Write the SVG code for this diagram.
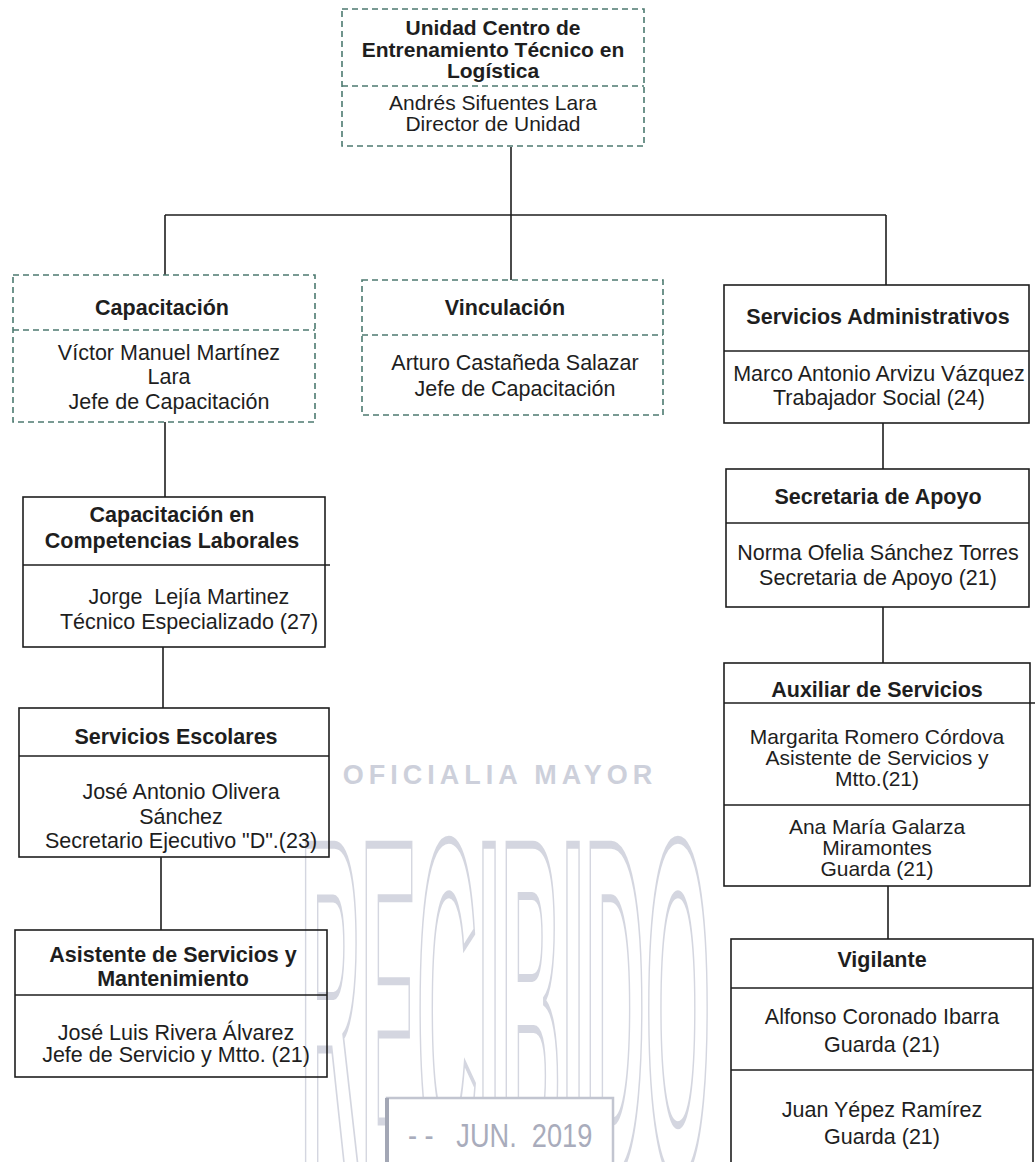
<svg xmlns="http://www.w3.org/2000/svg" width="1035" height="1162" viewBox="0 0 1035 1162">
<style>
.bg{fill:#ffffff}
.solid{fill:none;stroke:#1e1e1e;stroke-width:1.6}
.dash{fill:none;stroke:#4d7a70;stroke-width:1.6;stroke-dasharray:6 4}
.ln{stroke:#1e1e1e;stroke-width:1.6;fill:none}
.t{font-family:"Liberation Sans",Arial,sans-serif;font-size:21.5px;fill:#1e1e1e;text-anchor:middle}
.b{font-weight:bold}
.top{font-size:21px}
.sm{font-size:21px}
.st{font-family:"Liberation Sans",Arial,sans-serif;fill:#b9bdcc;text-anchor:middle}
</style>
<rect class="bg" x="0" y="0" width="1035" height="1162"/>

<g id="stamp" opacity="0.7">
<text class="st" x="500" y="784" font-size="27" font-weight="bold" letter-spacing="5">OFICIALIA MAYOR</text>
<text x="0" y="0" font-family="'Liberation Sans',Arial,sans-serif" font-size="300" font-weight="bold" fill="none" stroke="#c3c6d3" stroke-width="5" transform="translate(300 1175) scale(0.28 1.6)">RECIBIDO</text>
<rect x="387" y="1098" width="226" height="70" fill="#ffffff" stroke="#a9adbd" stroke-width="2.5"/>
<line x1="387" y1="1098" x2="387" y2="1162" stroke="#7d8296" stroke-width="4"/>
<text x="0" y="0" font-family="'Liberation Sans',Arial,sans-serif" font-size="34" fill="#858aa0" transform="translate(408 1147) scale(0.8 1)" xml:space="preserve">- -   JUN.  2019</text>
</g>

<g id="connectors">
<line class="ln" x1="511" y1="147" x2="511" y2="215"/>
<line class="ln" x1="165" y1="215" x2="886" y2="215"/>
<line class="ln" x1="165" y1="215" x2="165" y2="275"/>
<line class="ln" x1="511" y1="215" x2="511" y2="280"/>
<line class="ln" x1="886" y1="215" x2="886" y2="285"/>
<line class="ln" x1="165" y1="422" x2="165" y2="497"/>
<line class="ln" x1="163" y1="647" x2="163" y2="708"/>
<line class="ln" x1="161" y1="857" x2="161" y2="930"/>
<line class="ln" x1="883" y1="423" x2="883" y2="469"/>
<line class="ln" x1="883" y1="607" x2="883" y2="663"/>
<line class="ln" x1="888" y1="886" x2="888" y2="939"/>
</g>

<g id="unidad">
<rect class="dash" x="342" y="9" width="302" height="137"/>
<line class="dash" x1="342" y1="86" x2="644" y2="86"/>
<text class="t b top" x="493" y="35">Unidad Centro de</text>
<text class="t b top" x="493" y="57">Entrenamiento Técnico en</text>
<text class="t b top" x="493" y="78">Logística</text>
<text class="t top" x="493" y="110">Andrés Sifuentes Lara</text>
<text class="t top" x="493" y="131">Director de Unidad</text>
</g>

<g id="capacitacion">
<rect class="dash" x="13" y="275" width="302" height="147"/>
<line class="dash" x1="13" y1="330" x2="315" y2="330"/>
<text class="t b" x="162" y="315">Capacitación</text>
<text class="t" x="169" y="360">Víctor Manuel Martínez</text>
<text class="t" x="169" y="384">Lara</text>
<text class="t" x="169" y="409">Jefe de Capacitación</text>
</g>

<g id="vinculacion">
<rect class="dash" x="362" y="280" width="301" height="135"/>
<line class="dash" x1="362" y1="335" x2="663" y2="335"/>
<text class="t b" x="505" y="315">Vinculación</text>
<text class="t" x="515" y="370">Arturo Castañeda Salazar</text>
<text class="t" x="515" y="396">Jefe de Capacitación</text>
</g>

<g id="serv-admin">
<rect class="solid" x="724" y="285" width="305" height="138"/>
<line class="ln" x1="724" y1="351" x2="1029" y2="351"/>
<text class="t b" x="878" y="324">Servicios Administrativos</text>
<text class="t" x="879" y="381">Marco Antonio Arvizu Vázquez</text>
<text class="t" x="879" y="405">Trabajador Social (24)</text>
</g>

<g id="ccl">
<rect class="solid" x="23" y="497" width="302" height="150"/>
<line class="ln" x1="23" y1="565" x2="330" y2="565"/>
<text class="t b" x="172" y="522">Capacitación en</text>
<text class="t b" x="172" y="548">Competencias Laborales</text>
<text class="t" x="189" y="604" xml:space="preserve">Jorge  Lejía Martinez</text>
<text class="t" x="189" y="629">Técnico Especializado (27)</text>
</g>

<g id="serv-escolares">
<rect class="solid" x="19" y="708" width="310" height="149"/>
<line class="ln" x1="19" y1="756" x2="329" y2="756"/>
<text class="t b" x="176" y="744">Servicios Escolares</text>
<text class="t" x="181" y="799">José Antonio Olivera</text>
<text class="t" x="181" y="824">Sánchez</text>
<text class="t" x="181" y="848">Secretario Ejecutivo "D".(23)</text>
</g>

<g id="asistente">
<rect class="solid" x="15" y="930" width="312" height="147"/>
<line class="ln" x1="15" y1="995" x2="327" y2="995"/>
<text class="t b" x="173" y="962">Asistente de Servicios y</text>
<text class="t b" x="173" y="986">Mantenimiento</text>
<text class="t" x="176" y="1040">José Luis Rivera Álvarez</text>
<text class="t" x="176" y="1062">Jefe de Servicio y Mtto. (21)</text>
</g>

<g id="secretaria">
<rect class="solid" x="726" y="469" width="303" height="138"/>
<line class="ln" x1="726" y1="523" x2="1029" y2="523"/>
<text class="t b" x="878" y="504">Secretaria de Apoyo</text>
<text class="t" x="878" y="560">Norma Ofelia Sánchez Torres</text>
<text class="t" x="878" y="585">Secretaria de Apoyo (21)</text>
</g>

<g id="auxiliar">
<rect class="solid" x="724" y="663" width="306" height="223"/>
<line class="ln" x1="724" y1="703" x2="1035" y2="703"/>
<line class="ln" x1="724" y1="805" x2="1030" y2="805"/>
<text class="t b" x="877" y="697">Auxiliar de Servicios</text>
<text class="t sm" x="877" y="744">Margarita Romero Córdova</text>
<text class="t sm" x="877" y="765">Asistente de Servicios y</text>
<text class="t sm" x="877" y="786">Mtto.(21)</text>
<text class="t sm" x="877" y="834">Ana María Galarza</text>
<text class="t sm" x="877" y="855">Miramontes</text>
<text class="t sm" x="877" y="876">Guarda (21)</text>
</g>

<g id="vigilante">
<rect class="solid" x="731" y="939" width="302" height="240"/>
<line class="ln" x1="731" y1="988" x2="1033" y2="988"/>
<line class="ln" x1="731" y1="1070" x2="1033" y2="1070"/>
<text class="t b" x="882" y="967">Vigilante</text>
<text class="t" x="882" y="1024">Alfonso Coronado Ibarra</text>
<text class="t" x="882" y="1052">Guarda (21)</text>
<text class="t" x="882" y="1117">Juan Yépez Ramírez</text>
<text class="t" x="882" y="1144">Guarda (21)</text>
</g>
</svg>
